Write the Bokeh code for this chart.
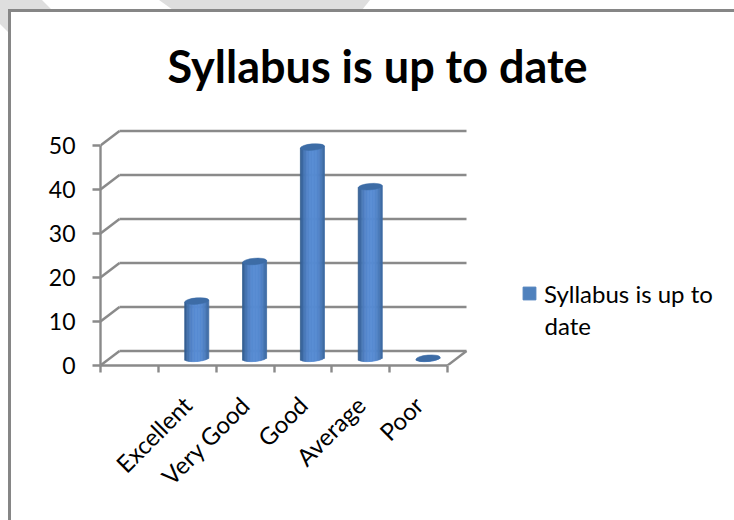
from math import pi, sqrt
from urllib.parse import quote
from bokeh.embed import file_html
from bokeh.resources import INLINE
from bokeh.plotting import figure
from bokeh.models import FixedTicker, Label, Legend, LegendItem, Range1d, Title

categories = ["Excellent", "Very Good", "Good", "Average", "Poor"]
values = [13, 22, 48, 39, 0]
y_ticks = [0, 10, 20, 30, 40, 50]
series_name = "Syllabus is up to"
series_name_wrap = "date"
title_text = "Syllabus is up to date"

FONT = "Lato"
GRID = "#8a8a8a"
BAR_DARK = (52, 94, 145)
BAR_LIGHT = (88, 140, 212)
BAR_TOP = "#3d6ca6"
SWATCH = "#4f81bd"

W, H = 734, 520
LEFT, TOP, BOTTOM = 100, 100, 365   # frame edges in page pixels
PX_X = (447 - 100) / 6
PX_Y = 4.4
DX, DY = 19 / PX_X, 14.5 / PX_Y     # depth of the 3-D box in data units

centres = [i + 1.5 for i in range(len(categories))]
boundaries = [i for i in range(len(categories) + 2)]
x_end = (W - LEFT) / PX_X
y_end = (BOTTOM - TOP) / PX_Y

# page decoration behind the transparent figure: watermark and the chart's outer border
backdrop = (
    f'<svg xmlns="http://www.w3.org/2000/svg" width="{W}" height="{H}">'
    f'<rect width="{W}" height="{H}" fill="white"/>'
    '<polygon points="0,0 42,0 52,10 8,10 8,32 0,24" fill="#dedede"/>'
    '<polygon points="159,0 370,0 362,10 173,10" fill="#dedede"/>'
    '<rect x="9.5" y="10.5" width="800" height="600" fill="white" stroke="#868686" stroke-width="3"/>'
    '</svg>'
)

p = figure(width=W, height=H, output_backend="svg", toolbar_location=None,
           x_range=Range1d(0, x_end), y_range=Range1d(0, y_end),
           min_border_left=LEFT, min_border_right=0, min_border_top=TOP,
           min_border_bottom=H - BOTTOM,
           styles={"background-image": f'url("data:image/svg+xml,{quote(backdrop)}")',
                   "background-repeat": "no-repeat"})
p.outline_line_color = None
p.xgrid.visible = False
p.ygrid.visible = False
p.background_fill_color = None
p.border_fill_color = None


def sx(px):      # annotation "screen" units count from the frame's lower left corner
    return px - LEFT


def sy(py):
    return BOTTOM - py


# back wall grid, side struts
n = len(boundaries) - 1
p.segment(x0=[DX] * len(y_ticks), x1=[n + DX] * len(y_ticks),
          y0=[v + DY for v in y_ticks], y1=[v + DY for v in y_ticks],
          line_color=GRID, line_width=2.4)
p.segment(x0=[0] * len(y_ticks), x1=[DX] * len(y_ticks),
          y0=y_ticks, y1=[v + DY for v in y_ticks], line_color=GRID, line_width=2.4)
p.segment(x0=[n], x1=[n + DX], y0=[0], y1=[DY], line_color=GRID, line_width=2.4)

# cylinders, each one built of vertical strips to give the shading
STRIPS = 16
BAR_W = 24 / PX_X
ELL_H = 3.2 / PX_Y
TILT = 1.0 / PX_Y
l, r, b, t, c = [], [], [], [], []
for cx, v in zip(centres, values):
    x0 = cx + DX / 2 - BAR_W / 2
    base = DY / 2
    for i in range(STRIPS):
        u = (i + 0.5) / STRIPS * 2 - 1
        shade = max(0, 1 - abs(u - 0.08) ** 2.4)
        col = tuple(int(d + (g - d) * shade) for d, g in zip(BAR_DARK, BAR_LIGHT))
        l.append(x0 + i * BAR_W / STRIPS)
        r.append(x0 + (i + 1) * BAR_W / STRIPS)
        b.append(base - ELL_H * sqrt(1 - u * u) + TILT * u)
        t.append(base + v + TILT * u)
        c.append("#%02x%02x%02x" % col)
p.quad(left=l, right=r, bottom=b, top=t, fill_color=c, line_color=c, line_width=0.8)
p.ellipse(x=[cx + DX / 2 for cx in centres], y=[v + DY / 2 for v in values],
          width=24, height=6.4, angle=TILT * PX_Y / 12,
          width_units="screen", height_units="screen",
          fill_color=BAR_TOP, line_color=BAR_TOP, line_width=0.5)

# axes
xa = p.xaxis[0]
xa.ticker = FixedTicker(ticks=centres, minor_ticks=boundaries)
xa.major_label_overrides = {c_: n_ for c_, n_ in zip(centres, categories)}
xa.major_label_orientation = pi / 4
xa.major_label_text_font = FONT
xa.major_label_text_font_size = "24px"
xa.major_label_text_color = "black"
xa.major_label_standoff = 28
xa.major_tick_in = 0
xa.major_tick_out = 0
xa.minor_tick_in = 0
xa.minor_tick_out = 7
xa.minor_tick_line_color = GRID
xa.minor_tick_line_width = 2.4
xa.axis_line_color = GRID
xa.axis_line_width = 2.4
xa.bounds = (0, n)

ya = p.yaxis[0]
ya.ticker = FixedTicker(ticks=y_ticks, minor_ticks=[])
ya.major_label_text_font = FONT
ya.major_label_text_font_size = "23px"
ya.major_label_text_color = "black"
ya.major_label_standoff = 17
ya.major_tick_in = 0
ya.major_tick_out = 8
ya.major_tick_line_color = GRID
ya.major_tick_line_width = 2.4
ya.axis_line_color = GRID
ya.axis_line_width = 2.4
ya.bounds = (0, y_ticks[-1])

# title
p.title = Title(text=title_text, align="left", offset=67, standoff=15,
                text_font=FONT, text_font_size="45px", text_font_style="bold",
                text_color="black")

# legend
nan = float("nan")
key = p.quad(left=[nan], right=[nan], bottom=[nan], top=[nan],
             fill_color=SWATCH, line_color=SWATCH)
legend = Legend(items=[LegendItem(label=series_name, renderers=[key])],
                location=(sx(521), sy(307.5)), orientation="vertical",
                glyph_width=16, glyph_height=16, label_standoff=7, padding=0, margin=0,
                border_line_color=None, background_fill_alpha=0,
                label_text_font=FONT, label_text_font_size="24px", label_text_color="black")
p.add_layout(legend, "center")
p.add_layout(Label(x=sx(544), y=sy(325), x_units="screen", y_units="screen",
                   text=series_name_wrap, text_font=FONT, text_font_size="24px",
                   text_baseline="middle", text_color="black"))

open("out.html", "w").write(file_html(p, INLINE))
